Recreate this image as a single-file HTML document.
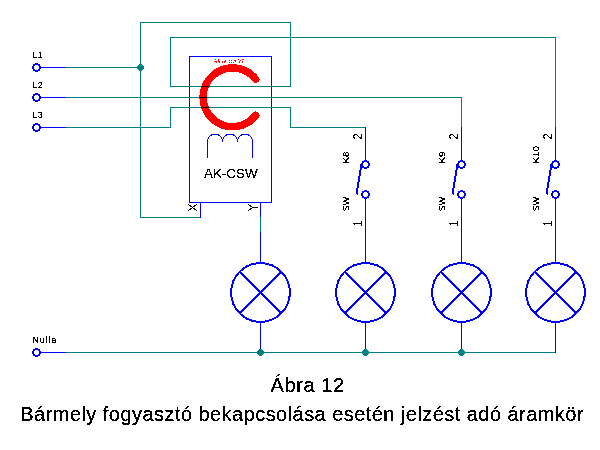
<!DOCTYPE html>
<html><head><meta charset="utf-8"><title>Ábra 12</title>
<style>
html,body{margin:0;padding:0;background:#fff;}
body{width:600px;height:450px;overflow:hidden;font-family:"Liberation Sans",sans-serif;}
svg{display:block;font-family:"Liberation Sans",sans-serif;}
text{fill:#000;}
.t33{filter:url(#f33);} .t40{filter:url(#f40);} .t50{filter:url(#f50);} .t45{filter:url(#f45);}
.r{fill:#ff0000;}
</style></head>
<body>
<svg width="600" height="450" viewBox="0 0 600 450" shape-rendering="crispEdges">
<defs><filter id="f33" x="-10%" y="-10%" width="120%" height="120%" color-interpolation-filters="sRGB"><feComponentTransfer><feFuncA type="discrete" tableValues="0 1 1"/></feComponentTransfer></filter><filter id="f40" x="-10%" y="-10%" width="120%" height="120%" color-interpolation-filters="sRGB"><feComponentTransfer><feFuncA type="discrete" tableValues="0 0 1 1 1"/></feComponentTransfer></filter><filter id="f50" x="-10%" y="-10%" width="120%" height="120%" color-interpolation-filters="sRGB"><feComponentTransfer><feFuncA type="discrete" tableValues="0 1"/></feComponentTransfer></filter><filter id="f45" x="-10%" y="-10%" width="120%" height="120%" color-interpolation-filters="sRGB"><feComponentTransfer><feFuncA type="discrete" tableValues="0 0 0 0 0 0 0 0 0 1 1 1 1 1 1 1 1 1 1 1"/></feComponentTransfer></filter></defs>
<rect width="600" height="450" fill="#fff"/>
<path d="M255.67,79.20A29.4,29.4 0 1 0 255.67,115.40" fill="none" stroke="#ff0000" stroke-width="7.5" stroke-linecap="round"/>
<g shape-rendering="crispEdges" style="mix-blend-mode:multiply">
<rect x="189.5" y="56.5" width="82" height="146" fill="none" stroke="#0000ff" stroke-width="1"/>
<line x1="40" y1="67.5" x2="66" y2="67.5" stroke="#0000ff" stroke-width="1" />
<line x1="40" y1="97.5" x2="66" y2="97.5" stroke="#0000ff" stroke-width="1" />
<line x1="40" y1="127.5" x2="66" y2="127.5" stroke="#0000ff" stroke-width="1" />
<line x1="40" y1="352.5" x2="66" y2="352.5" stroke="#0000ff" stroke-width="1" />
<line x1="66" y1="67.5" x2="140.5" y2="67.5" stroke="#008080" stroke-width="1" />
<polyline points="200.5,217.5 140.5,217.5 140.5,22.5 290.5,22.5 290.5,86.5 170.5,86.5 170.5,37.5 555.5,37.5 555.5,127" fill="none" stroke="#008080" stroke-width="1" stroke-linejoin="miter" stroke-linecap="square"/>
<polyline points="66,97.5 461.5,97.5 461.5,127" fill="none" stroke="#008080" stroke-width="1" stroke-linejoin="miter" stroke-linecap="square"/>
<polyline points="66,127.5 170.5,127.5 170.5,107.5 290.5,107.5 290.5,127.5 365.5,127.5" fill="none" stroke="#008080" stroke-width="1" stroke-linejoin="miter" stroke-linecap="square"/>
<line x1="66" y1="352.5" x2="555.5" y2="352.5" stroke="#008080" stroke-width="1" />
<line x1="200.5" y1="202" x2="200.5" y2="217.5" stroke="#0000ff" stroke-width="1" />
<line x1="260.5" y1="202" x2="260.5" y2="217" stroke="#0000ff" stroke-width="1" />
<line x1="260.5" y1="217" x2="260.5" y2="232" stroke="#008080" stroke-width="1" />
<line x1="260.5" y1="232" x2="260.5" y2="262" stroke="#0000ff" stroke-width="1" />
<line x1="260.5" y1="323" x2="260.5" y2="352" stroke="#0000ff" stroke-width="1" />
<line x1="365.5" y1="127" x2="365.5" y2="160" stroke="#0000ff" stroke-width="1" />
<line x1="365.5" y1="199" x2="365.5" y2="262" stroke="#0000ff" stroke-width="1" />
<line x1="365.5" y1="323" x2="365.5" y2="352.5" stroke="#0000ff" stroke-width="1" />
<line x1="461.5" y1="127" x2="461.5" y2="160" stroke="#0000ff" stroke-width="1" />
<line x1="461.5" y1="199" x2="461.5" y2="262" stroke="#0000ff" stroke-width="1" />
<line x1="461.5" y1="323" x2="461.5" y2="352.5" stroke="#0000ff" stroke-width="1" />
<line x1="555.5" y1="127" x2="555.5" y2="160" stroke="#0000ff" stroke-width="1" />
<line x1="555.5" y1="199" x2="555.5" y2="262" stroke="#0000ff" stroke-width="1" />
<line x1="555.5" y1="323" x2="555.5" y2="352.5" stroke="#0000ff" stroke-width="1" />
</g>
<circle cx="140.5" cy="67.5" r="3.35" fill="#008080"/>
<circle cx="260.5" cy="352.5" r="3.35" fill="#008080"/>
<circle cx="365.5" cy="352.5" r="3.35" fill="#008080"/>
<circle cx="461.5" cy="352.5" r="3.35" fill="#008080"/>
<circle cx="36.5" cy="67.5" r="3.4" fill="#fff" stroke="#0000ff" stroke-width="2.1"/>
<circle cx="36.5" cy="97.5" r="3.4" fill="#fff" stroke="#0000ff" stroke-width="2.1"/>
<circle cx="36.5" cy="127.5" r="3.4" fill="#fff" stroke="#0000ff" stroke-width="2.1"/>
<circle cx="36.5" cy="352.5" r="3.4" fill="#fff" stroke="#0000ff" stroke-width="2.1"/>
<circle cx="260.5" cy="292.5" r="29.4" fill="none" stroke="#0000ff" stroke-width="2"/>
<path d="M239.71,271.71L281.29,313.29M281.29,271.71L239.71,313.29" stroke="#0000ff" stroke-width="2" fill="none"/>
<circle cx="365.5" cy="292.5" r="29.4" fill="none" stroke="#0000ff" stroke-width="2"/>
<path d="M344.71,271.71L386.29,313.29M386.29,271.71L344.71,313.29" stroke="#0000ff" stroke-width="2" fill="none"/>
<circle cx="461.5" cy="292.5" r="29.4" fill="none" stroke="#0000ff" stroke-width="2"/>
<path d="M440.71,271.71L482.29,313.29M482.29,271.71L440.71,313.29" stroke="#0000ff" stroke-width="2" fill="none"/>
<circle cx="555.5" cy="292.5" r="29.4" fill="none" stroke="#0000ff" stroke-width="2"/>
<path d="M534.71,271.71L576.29,313.29M576.29,271.71L534.71,313.29" stroke="#0000ff" stroke-width="2" fill="none"/>
<path d="M361.5,164L356.5,194.5" stroke="#0000ff" stroke-width="2" fill="none" shape-rendering="crispEdges"/>
<circle cx="365.5" cy="164.5" r="3.4" fill="#fff" stroke="#0000ff" stroke-width="1.8"/>
<circle cx="365.5" cy="194.5" r="3.4" fill="#fff" stroke="#0000ff" stroke-width="1.8"/>
<path d="M457.5,164L452.5,194.5" stroke="#0000ff" stroke-width="2" fill="none" shape-rendering="crispEdges"/>
<circle cx="461.5" cy="164.5" r="3.4" fill="#fff" stroke="#0000ff" stroke-width="1.8"/>
<circle cx="461.5" cy="194.5" r="3.4" fill="#fff" stroke="#0000ff" stroke-width="1.8"/>
<path d="M551.5,164L546.5,194.5" stroke="#0000ff" stroke-width="2" fill="none" shape-rendering="crispEdges"/>
<circle cx="555.5" cy="164.5" r="3.4" fill="#fff" stroke="#0000ff" stroke-width="1.8"/>
<circle cx="555.5" cy="194.5" r="3.4" fill="#fff" stroke="#0000ff" stroke-width="1.8"/>
<path d="M207.5,158V141.5a7.5,7.5 0 0 1 15,0a7.5,7.5 0 0 1 15,0a7.5,7.5 0 0 1 15,0V158" fill="none" stroke="#0000ff" stroke-width="1"/>
<g class="t40"><text x="214" y="63.3" font-size="4.6" class="r" font-style="italic" textLength="30">AKswitch V2</text></g>
<g class="t40"><text transform="translate(362.0,139.5) rotate(-90) scale(0.85,1)" font-size="13" letter-spacing="0">2</text></g>
<g class="t40"><text transform="translate(362.0,226.3) rotate(-90) scale(0.8,1)" font-size="13" letter-spacing="0">1</text></g>
<g class="t40"><text transform="translate(349.0,163.5) rotate(-90) scale(1.0,1)" font-size="9.8" letter-spacing="0">K8</text></g>
<g class="t40"><text transform="translate(349.0,211.6) rotate(-90) scale(0.94,1)" font-size="9.8" letter-spacing="0">SW</text></g>
<g class="t40"><text transform="translate(458.0,139.5) rotate(-90) scale(0.85,1)" font-size="13" letter-spacing="0">2</text></g>
<g class="t40"><text transform="translate(458.0,226.3) rotate(-90) scale(0.8,1)" font-size="13" letter-spacing="0">1</text></g>
<g class="t40"><text transform="translate(445.0,163.5) rotate(-90) scale(1.0,1)" font-size="9.8" letter-spacing="0">K9</text></g>
<g class="t40"><text transform="translate(445.0,211.6) rotate(-90) scale(0.94,1)" font-size="9.8" letter-spacing="0">SW</text></g>
<g class="t40"><text transform="translate(552.0,139.5) rotate(-90) scale(0.85,1)" font-size="13" letter-spacing="0">2</text></g>
<g class="t40"><text transform="translate(552.0,226.3) rotate(-90) scale(0.8,1)" font-size="13" letter-spacing="0">1</text></g>
<g class="t40"><text transform="translate(539.0,163.5) rotate(-90) scale(1.0,1)" font-size="9.8" letter-spacing="0">K10</text></g>
<g class="t40"><text transform="translate(539.0,211.6) rotate(-90) scale(0.94,1)" font-size="9.8" letter-spacing="0">SW</text></g>
<path d="M188.5,204.5L196.5,210.5M188.5,210.5L196.5,204.5M248.5,204.5L252.5,207.5M248.5,210.5L252.5,207.5M252,207.5H257" stroke="#000" stroke-width="1" fill="none" stroke-linecap="square" shape-rendering="crispEdges"/>
<g class="t40"><text x="204" y="178" font-size="13.4" letter-spacing="0">AK-CSW</text></g>
<g class="t40"><text x="32" y="58" font-size="9.8" letter-spacing="0">L1</text></g>
<g class="t40"><text x="32" y="88" font-size="9.8" letter-spacing="0">L2</text></g>
<g class="t40"><text x="32" y="118" font-size="9.8" letter-spacing="0">L3</text></g>
<g class="t33"><text x="32.5" y="342.5" font-size="9" letter-spacing="0.85">Nulla</text></g>
<g class="t33"><text x="270.6" y="391.7" font-size="20" letter-spacing="0.6">Ábra 12</text></g>
<g class="t33"><text x="20.3" y="421" font-size="20" letter-spacing="0.45">Bármely fogyasztó bekapcsolása esetén jelzést adó áramkör</text></g>
</svg>
</body></html>
